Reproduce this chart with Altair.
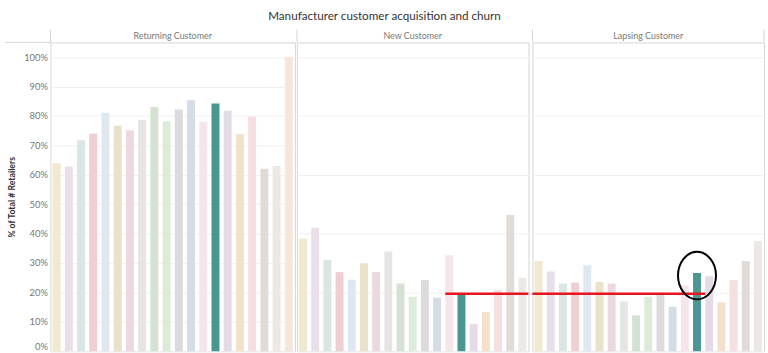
import altair as alt
import pandas as pd

manufacturers = ["M01", "M02", "M03", "M04", "M05", "M06", "M07", "M08", "M09", "M10",
                 "M11", "M12", "M13", "M14", "M15", "M16", "M17", "M18", "M19", "M20"]
colors = ["#f1e8cf", "#e9dfe8", "#dae6e2", "#f0cfd3", "#dfe8f0", "#e7e2c9", "#ecd8e1",
          "#e6e5e3", "#d5e2d3", "#dcecd8", "#dddadb", "#d4dde6", "#f5e6ec", "#4a9690",
          "#e4dbe6", "#f5e0c9", "#f5dfe0", "#e1dbd8", "#ede8e5", "#f5e7d9"]

segments = ["Returning Customer", "New Customer", "Lapsing Customer"]
returning = [63.9, 62.8, 71.7, 74.0, 81.1, 76.7, 75.1, 78.7, 83.0, 78.2,
             82.2, 85.3, 78.0, 84.2, 81.8, 73.8, 79.7, 62.0, 63.0, 100.0]
new = [38.3, 42.0, 31.0, 26.9, 24.3, 29.9, 26.9, 33.9, 23.0, 18.5,
       24.2, 18.2, 32.6, 19.3, 9.2, 13.3, 20.8, 46.3, 24.9]
lapsing = [30.7, 27.1, 23.0, 23.3, 29.2, 23.5, 23.0, 16.9, 12.2, 18.5,
           19.1, 15.1, 22.4, 26.6, 25.5, 16.6, 24.2, 30.7, 37.5]
tick_values = [0, 0.1, 0.2, 0.3, 0.4, 0.5, 0.6, 0.7, 0.8, 0.9, 1.0]

# annotation values
ref_line_value = 0.195
circle_value = 0.257
circle_manufacturer = "M14"

FONT = "Lato"
GRID = "#f0f0f0"
BORDER = "#d6d6d6"
H = 312
widths = [247, 234, 234]
series = [returning, new, lapsing]

color_scale = alt.Scale(domain=manufacturers, range=colors)
y_scale = alt.Scale(domain=[0, 1.05], nice=False, zero=True)


def panel(i):
    vals = series[i]
    mf = manufacturers[:len(vals)]
    df = pd.DataFrame({"manufacturer": mf, "pct": [v / 100 for v in vals]})
    w = widths[i]
    xenc = alt.X("manufacturer:N", sort=mf, axis=None,
                 scale=alt.Scale(paddingInner=0.35, paddingOuter=0.175))
    if i == 0:
        yaxis = alt.Axis(values=tick_values, format=".0%", grid=True, gridColor=GRID,
                         ticks=False, domain=False, labelColor="#777", labelFontSize=9.5,
                         labelFont=FONT, labelPadding=3, labelFlush=True,
                         title="% of Total # Retailers", titleFont=FONT, titleFontSize=8.8,
                         titleFontWeight="bold", titleColor="#333", titlePadding=7)
    else:
        yaxis = alt.Axis(values=tick_values, grid=True, gridColor=GRID, ticks=False,
                         domain=False, labels=False, title=None)
    bars = alt.Chart(df).mark_bar().encode(
        x=xenc,
        y=alt.Y("pct:Q", scale=y_scale, axis=yaxis),
        color=alt.Color("manufacturer:N", scale=color_scale, legend=None),
    )
    one = pd.DataFrame({"k": [0]})
    header = alt.Chart(one).mark_text(font=FONT, fontSize=9, color="#777",
                                      baseline="middle").encode(
        x=alt.value(w / 2), y=alt.value(-6.5), text=alt.value(segments[i]))
    vline = alt.Chart(one).mark_rule(color=BORDER, strokeWidth=1).encode(
        x=alt.value(0), y=alt.value(-13), y2=alt.value(0))
    layers = [bars, header, vline]
    if i == 0:
        hline = alt.Chart(one).mark_rule(color=BORDER, strokeWidth=1).encode(
            x=alt.value(-46), x2=alt.value(0), y=alt.value(0))
        layers.append(hline)
    if i == 2:
        vline2 = alt.Chart(one).mark_rule(color=BORDER, strokeWidth=1).encode(
            x=alt.value(w), y=alt.value(-13), y2=alt.value(0))
        layers.append(vline2)
    if i == 1:
        red = alt.Chart(pd.DataFrame({"manufacturer": ["M13"], "v": [ref_line_value]})).mark_rule(
            color="#e8141e", strokeWidth=2.5).encode(
            x=alt.X("manufacturer:N", bandPosition=0),
            x2=alt.value(w),
            y=alt.Y("v:Q"))
        layers.append(red)
    if i == 2:
        red = alt.Chart(pd.DataFrame({"manufacturer": ["M15"], "v": [ref_line_value]})).mark_rule(
            color="#e8141e", strokeWidth=2.5).encode(
            x=alt.X("manufacturer:N", bandPosition=0),
            x2=alt.value(0),
            y=alt.Y("v:Q"))
        ell = alt.Chart(pd.DataFrame({"manufacturer": [circle_manufacturer],
                                      "v": [circle_value]})).mark_point(
            shape="M -0.8,0 A 0.8,1 0 1,0 0.8,0 A 0.8,1 0 1,0 -0.8,0 Z",
            size=2304, filled=False, stroke="black", strokeWidth=2, opacity=1).encode(
            x=alt.X("manufacturer:N"), y=alt.Y("v:Q"))
        layers += [red, ell]
    return alt.layer(*layers).properties(width=w, height=H)


chart = alt.hconcat(panel(0), panel(1), panel(2), spacing=0).properties(
    title=alt.TitleParams("Manufacturer customer acquisition and churn", anchor="middle",
                          frame="bounds", font=FONT, fontSize=11.8, fontWeight="normal",
                          color="#333", offset=6),
    padding={"left": 4, "top": 9, "right": 3, "bottom": 1},
).configure_view(stroke=BORDER, strokeWidth=1).configure_concat(spacing=0)

chart.save("out.html", embed_options={"renderer": "svg", "actions": False})
